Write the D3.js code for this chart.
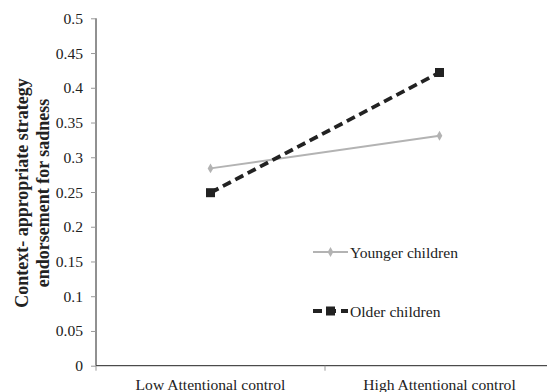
<!DOCTYPE html>
<html><head><meta charset="utf-8">
<script src="https://cdn.jsdelivr.net/npm/d3@7"></script>
<style>body{margin:0;background:#fff}svg{display:block}</style>
</head><body><svg id="c" width="547" height="392"></svg>
<script>
const categories = ["Low Attentional control", "High Attentional control"];
const younger = [0.284, 0.331];
const older = [0.249, 0.422];
const seriesNames = ["Younger children", "Older children"];
const yTicks = [0, 0.05, 0.1, 0.15, 0.2, 0.25, 0.3, 0.35, 0.4, 0.45, 0.5];
const yTickLabels = ["0", "0.05", "0.1", "0.15", "0.2", "0.25", "0.3", "0.35", "0.4", "0.45", "0.5"];

const svg = d3.select("#c");
const font = "'Liberation Serif', 'Times New Roman', serif";
const fs = 15.6;
const x = d3.scaleBand().domain(categories).range([96, 554]);
const y = d3.scaleLinear().domain([0, 0.5]).range([365.7, 18.3]);

const yAxis = svg.append("g").attr("transform", "translate(96,0)")
  .call(d3.axisLeft(y).tickValues(yTicks).tickFormat((d, i) => yTickLabels[i]).tickSize(5).tickPadding(8));
yAxis.select(".domain").attr("stroke", "#222").attr("d", "M0," + y(0.5) + "V" + y(0));
yAxis.selectAll(".tick line").attr("stroke", "#999");
yAxis.selectAll("text").attr("font-family", font).attr("font-size", fs).attr("fill", "#222");

const xAxis = svg.append("g").attr("transform", "translate(0," + y(0) + ")")
  .call(d3.axisBottom(x).tickSize(0).tickPadding(13));
xAxis.select(".domain").attr("stroke", "#222").attr("d", "M96,0H547");
xAxis.selectAll("text").attr("font-family", font).attr("font-size", fs).attr("fill", "#222");
const bounds = [x.range()[0], x(categories[1])];
xAxis.selectAll(".btick").data(bounds).enter().append("line")
  .attr("x1", d => d).attr("x2", d => d).attr("y1", 0).attr("y2", 5).attr("stroke", "#999");

const cx = c => x(c) + x.bandwidth() / 2;
const line = d3.line().x((d, i) => cx(categories[i])).y(d => y(d));

svg.append("path").datum(younger).attr("d", line).attr("fill", "none")
  .attr("stroke", "#b3b3b3").attr("stroke-width", 2);
svg.append("path").datum(older).attr("d", line).attr("fill", "none")
  .attr("stroke", "#222").attr("stroke-width", 3.8).attr("stroke-dasharray", "9,5");

const diamond = d3.symbol().type(d3.symbolDiamond).size(28);
svg.selectAll(".yd").data(younger).enter().append("path")
  .attr("transform", (d, i) => `translate(${cx(categories[i])},${y(d)})`)
  .attr("d", diamond).attr("fill", "#b3b3b3");
svg.selectAll(".os").data(older).enter().append("rect")
  .attr("x", (d, i) => cx(categories[i]) - 4.5).attr("y", d => y(d) - 4.5)
  .attr("width", 9).attr("height", 9).attr("fill", "#222");

// legend
const lg = svg.append("g");
lg.append("line").attr("x1", 313).attr("x2", 348).attr("y1", 252).attr("y2", 252)
  .attr("stroke", "#b3b3b3").attr("stroke-width", 2);
lg.append("path").attr("transform", "translate(330.5,252)").attr("d", diamond).attr("fill", "#b3b3b3");
lg.append("text").attr("x", 350).attr("y", 257.5).text(seriesNames[0])
  .attr("font-family", font).attr("font-size", fs).attr("fill", "#222");
lg.append("line").attr("x1", 313).attr("x2", 348).attr("y1", 311).attr("y2", 311)
  .attr("stroke", "#222").attr("stroke-width", 3.8).attr("stroke-dasharray", "9,5");
lg.append("rect").attr("x", 326).attr("y", 306.5).attr("width", 9).attr("height", 9).attr("fill", "#222");
lg.append("text").attr("x", 350).attr("y", 316.5).text(seriesNames[1])
  .attr("font-family", font).attr("font-size", fs).attr("fill", "#222");

// y-axis title
const yt = svg.append("text").attr("transform", "translate(0,193) rotate(-90)")
  .attr("text-anchor", "middle").attr("font-family", font).attr("font-size", 18)
  .attr("font-weight", "bold").attr("fill", "#222");
yt.append("tspan").attr("x", 0).attr("y", 28).text("Context- appropriate strategy");
yt.append("tspan").attr("x", 0).attr("y", 49).text("endorsement for sadness");
</script></body></html>
